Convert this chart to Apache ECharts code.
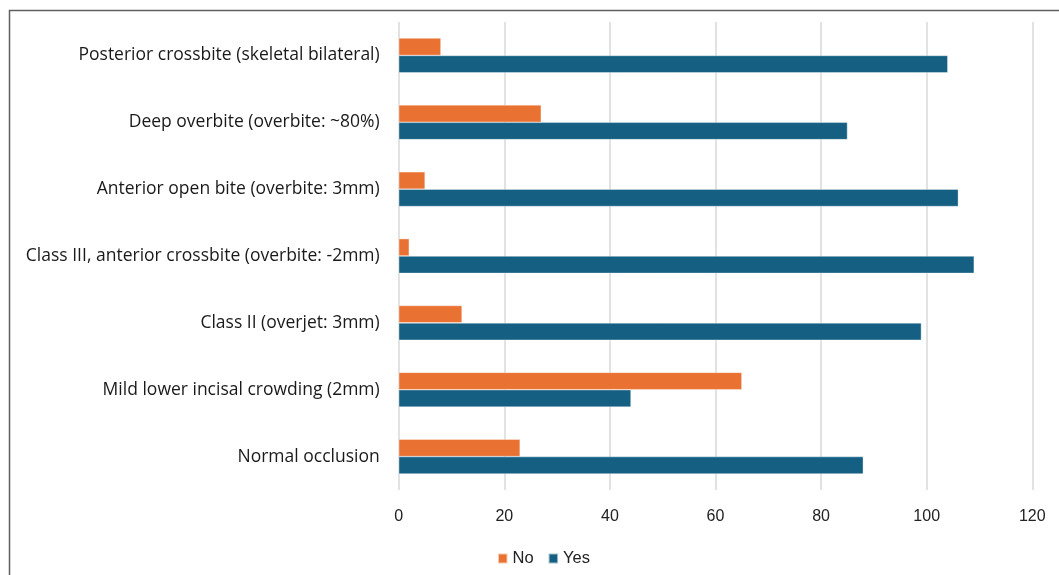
<!DOCTYPE html>
<html>
<head>
<meta charset="utf-8">
<script src="https://cdn.jsdelivr.net/npm/echarts@6/dist/echarts.min.js"></script>
<style>
  html, body { margin: 0; padding: 0; background: #fff; }
  #chart { width: 1059px; height: 575px; }
</style>
</head>
<body>
<div id="chart"></div>
<script>
// Malocclusion scenarios, listed bottom to top as the category axis draws them
const categories = [
  'Normal occlusion',
  'Mild lower incisal crowding (2mm)',
  'Class II (overjet: 3mm)',
  'Class III, anterior crossbite (overbite: -2mm)',
  'Anterior open bite (overbite: 3mm)',
  'Deep overbite (overbite: ~80%)',
  'Posterior crossbite (skeletal bilateral)'
];
const noValues  = [23, 65, 12, 2, 5, 27, 8];
const yesValues = [88, 44, 99, 109, 106, 85, 104];
const seriesNames = ['No', 'Yes'];

const ORANGE = '#E97132';
const BLUE = '#156082';
const labelFont = '"Open Sans", "Noto Sans", sans-serif';
const tickFont = '"Liberation Sans", Arial, sans-serif';

const chart = echarts.init(document.getElementById('chart'), null, { renderer: 'canvas' });

chart.setOption({
  animation: false,
  backgroundColor: '#ffffff',
  graphic: [{
    type: 'rect',
    shape: { x: 9.5, y: 10.5, width: 1200, height: 800 },
    style: { fill: 'none', stroke: '#5f5f5f', lineWidth: 1.5 },
    silent: true,
    z: 100
  }],
  legend: {
    data: seriesNames,
    left: 492,
    top: 545,
    itemWidth: 9.5,
    itemHeight: 10,
    itemGap: 14,
    icon: 'rect',
    textStyle: { fontFamily: tickFont, fontSize: 16.5, color: '#222' }
  },
  grid: {
    left: 398.7,
    right: 26.7,
    top: 22,
    bottom: 85,
    containLabel: false
  },
  xAxis: {
    type: 'value',
    min: 0,
    max: 120,
    interval: 20,
    axisLine: { show: false },
    axisTick: { show: false },
    splitLine: { show: true, lineStyle: { color: '#d9d9d9', width: 1.5 } },
    axisLabel: { fontFamily: tickFont, fontSize: 16, color: '#222', margin: 19 }
  },
  yAxis: {
    type: 'category',
    data: categories,
    axisLine: { show: false },
    axisTick: { show: false },
    axisLabel: { fontFamily: labelFont, fontSize: 17.5, color: '#1a1a1a', margin: 19 }
  },
  series: [
    {
      name: seriesNames[0],
      type: 'bar',
      data: noValues,
      barWidth: '26%',
      barGap: '0%',
      itemStyle: { color: ORANGE, borderColor: 'rgba(255,255,255,0.6)', borderWidth: 0.6 }
    },
    {
      name: seriesNames[1],
      type: 'bar',
      data: yesValues,
      barWidth: '26%',
      barGap: '0%',
      itemStyle: { color: BLUE, borderColor: 'rgba(255,255,255,0.6)', borderWidth: 0.6 }
    }
  ]
});
</script>
</body>
</html>
